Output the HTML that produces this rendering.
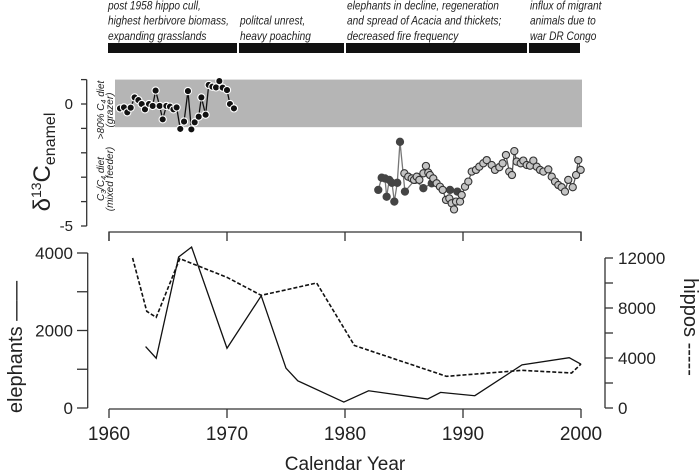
<!DOCTYPE html>
<html><head><meta charset="utf-8"><style>
body{margin:0;background:#fff;}
svg{display:block;font-family:"Liberation Sans",sans-serif;}
.ann{font-style:italic;font-size:11.5px;fill:#222;}
</style></head><body>
<svg id="chart" width="700" height="473" viewBox="0 0 700 473"></svg>
<script>
// ---- data ----
const isoBlackYears=[1960.93,1961.27,1961.55,1961.84,1962.17,1962.49,1962.77,1963.05,1963.39,1963.70,1963.95,1964.29,1964.55,1964.86,1965.17,1965.46,1965.73,1966.04,1966.36,1966.69,1966.98,1967.26,1967.60,1967.83,1968.19,1968.45,1968.76,1969.07,1969.35,1969.63,1970.0,1970.25,1970.59];
const isoBlackValues=[-0.18,-0.14,-0.34,-0.15,0.27,0.16,0,-0.22,0,-0.08,0.55,-0.08,-0.63,-0.08,-0.11,-0.22,-0.14,-1.02,-0.72,0.53,-1.04,-0.75,-0.52,0.27,-0.44,0.78,0.71,0.68,0.94,0.67,0.57,0,-0.18];
const isoDarkYears=[1982.82,1983.11,1983.39,1983.53,1983.75,1983.98,1984.18,1984.43,1984.66,1985.08,1985.93,1986.64,1987.35,1988.90,1989.52];
const isoDarkValues=[-3.52,-3.02,-3.05,-3.80,-3.11,-3.23,-4.00,-3.23,-1.55,-3.59,-3.11,-3.45,-3.25,-3.52,-3.59];
const isoLightYears=[1985.03,1985.36,1985.65,1985.85,1986.08,1986.30,1986.64,1986.86,1987.06,1987.20,1987.48,1987.77,1988.05,1988.28,1988.56,1988.84,1989.04,1989.24,1989.41,1989.75,1989.89,1990.17,1990.45,1990.74,1991.10,1991.38,1991.72,1992.01,1992.43,1992.71,1993.08,1993.36,1993.64,1993.92,1994.15,1994.35,1994.55,1994.89,1995.11,1995.40,1995.68,1995.96,1996.25,1996.53,1996.81,1997.23,1997.52,1997.80,1998.08,1998.36,1998.64,1998.92,1999.30,1999.58,1999.77,1999.97];
const isoLightValues=[-2.84,-2.98,-3.05,-3.11,-2.98,-3.11,-2.84,-2.54,-2.81,-2.91,-3.05,-3.25,-3.39,-3.52,-3.93,-3.87,-4.07,-4.32,-4.00,-4.00,-3.73,-3.39,-3.18,-2.77,-2.70,-2.57,-2.43,-2.30,-2.50,-2.70,-2.59,-2.43,-2.09,-2.77,-2.91,-1.93,-2.36,-2.43,-2.32,-2.50,-2.53,-2.32,-2.57,-2.70,-2.77,-2.68,-2.98,-3.18,-3.32,-3.41,-3.59,-3.11,-3.41,-2.91,-2.30,-2.70];
const elephantYears=[1963.1,1964.0,1965.9,1967.0,1970.0,1972.9,1975.0,1976.0,1979.9,1982.0,1987.0,1988.1,1991.0,1995.0,1999.0,2000.0];
const elephantValues=[1585,1285,3897,4154,1542,2895,1028,702,154,445,231,403,317,1113,1298,1130];
const hippoYears=[1962.0,1963.2,1964.0,1966.0,1970.0,1972.9,1977.6,1980.8,1988.6,1995.0,1999.2,2000.0];
const hippoValues=[12000,7733,7253,11947,10453,9013,10000,5000,2533,3013,2800,3520];
const xTicks=[1960,1970,1980,1990,2000];
const isoTicks=[1,0,-1,-2,-3,-4,-5];
const isoTickLabels=["0","-5"];
const eleTicks=[0,1000,2000,3000,4000];
const eleTickLabels=["0","2000","4000"];
const hipTicks=[0,2000,4000,6000,8000,10000,12000];
const hipTickLabels=["0","4000","8000","12000"];

// ---- scales ----
const X=y=>109+(y-1960)*11.8;
const YI=v=>104-v*24.4;
const YE=v=>408-v*0.03875;
const YH=v=>408-v*0.0125;
const NS="http://www.w3.org/2000/svg";
const svg=document.getElementById('chart');
function mk(tag,attrs,parent){const e=document.createElementNS(NS,tag);for(const k in attrs)e.setAttribute(k,attrs[k]);(parent||svg).appendChild(e);return e;}
function txt(s,attrs,parent){const e=mk('text',attrs,parent);e.textContent=s;return e;}

// annotation bars
const bars=[[108,237],[239,344],[346,527],[529,580]];
bars.forEach((b,i)=>{const r=mk('rect',{x:b[0],y:43,width:b[1]-b[0],height:10,fill:'#111'});

});
const anns=[[108,["post 1958 hippo cull,","highest herbivore biomass,","expanding grasslands"]],[240,["politcal unrest,","heavy poaching"]],[347,["elephants in decline, regeneration","and spread of Acacia and thickets;","decreased fire frequency"]],[530,["influx of migrant","animals due to","war DR Congo"]]];
anns.forEach((a,i)=>{const n=a[1].length;const g=mk('g',{transform:`translate(${a[0]},0) scale(0.88,1)`});


a[1].forEach((l,j)=>txt(l,{x:0,y:40-(n-1-j)*15.3,class:'ann'},g));});

// top panel
const band=mk('rect',{x:115,y:YI(1),width:582-115,height:YI(-0.95)-YI(1),fill:'#b5b5b5'});


const ya=mk('line',{x1:86.7,y1:YI(1),x2:86.7,y2:YI(-5),stroke:'#333','stroke-width':1.3});


isoTicks.forEach(t=>mk('line',{x1:81,x2:86.7,y1:YI(t),y2:YI(t),stroke:'#333','stroke-width':1.3}));
txt(isoTickLabels[0],{x:73,y:YI(0)+5,'text-anchor':'end','font-size':15,fill:'#222'});
txt(isoTickLabels[1],{x:73,y:YI(-5)+5,'text-anchor':'end','font-size':15,fill:'#222'});
const yt=txt('',{transform:'translate(50,162) rotate(-90)','text-anchor':'middle','font-size':24,fill:'#222'});


yt.innerHTML='δ<tspan font-size="14" dy="-9">13</tspan><tspan dy="9">C</tspan><tspan font-size="16" dy="5">enamel</tspan>';
const g1=mk('g',{});


txt('',{transform:'translate(104,110) rotate(-90)','text-anchor':'middle','font-size':10,'font-style':'italic',fill:'#222'},g1).innerHTML='&gt;80% C<tspan font-size="7" dy="2">4</tspan><tspan dy="-2"> diet</tspan>';
txt('(grazer)',{transform:'translate(113,110) rotate(-90)','text-anchor':'middle','font-size':10,'font-style':'italic',fill:'#222'},g1);
const g2=mk('g',{});


txt('',{transform:'translate(104,179) rotate(-90)','text-anchor':'middle','font-size':10,'font-style':'italic',fill:'#222'},g2).innerHTML='C<tspan font-size="7" dy="2">3</tspan><tspan dy="-2">/C</tspan><tspan font-size="7" dy="2">4</tspan><tspan dy="-2"> diet</tspan>';
txt('(mixed feeder)',{transform:'translate(113,179) rotate(-90)','text-anchor':'middle','font-size':10,'font-style':'italic',fill:'#222'},g2);

function series(years,vals,line,fill,stroke,name){
  const pts=years.map((y,i)=>X(y)+','+YI(vals[i])).join(' ');
  const pl=mk('polyline',{points:pts,fill:'none',stroke:line,'stroke-width':1.3});
  
  
  years.forEach((y,i)=>{const c=mk('circle',{cx:X(y),cy:YI(vals[i]),r:3.6,fill:fill,stroke:stroke,'stroke-width':1.1});
  
  });
}
series(isoBlackYears,isoBlackValues,'#111','#111','#fff','hippo-isotope');
series(isoDarkYears,isoDarkValues,'#777','#444','#444','dark-isotope');
series(isoLightYears,isoLightValues,'#555','#c4c4c4','#333','light-isotope');

// bottom panel
const br=mk('path',{d:`M${X(1960)} 241 V232 H${X(2000)} V241`,fill:'none',stroke:'#333','stroke-width':1.3});


xTicks.forEach(t=>mk('line',{x1:X(t),x2:X(t),y1:232,y2:241,stroke:'#333','stroke-width':1.3}));
const xa=mk('line',{x1:X(1960),x2:X(2000),y1:409,y2:409,stroke:'#333','stroke-width':1.3});


xTicks.forEach(t=>{mk('line',{x1:X(t),x2:X(t),y1:409,y2:418,stroke:'#333','stroke-width':1.3});
const l=txt(String(t),{x:X(t),y:440,'text-anchor':'middle','font-size':19,fill:'#222'});

});
const xt=txt('Calendar Year',{x:345,y:470,'text-anchor':'middle','font-size':19,fill:'#222'});



const ea=mk('line',{x1:87.7,x2:87.7,y1:YE(4000),y2:YE(0),stroke:'#333','stroke-width':1.3});


eleTicks.forEach(t=>mk('line',{x1:77,x2:87.7,y1:YE(t),y2:YE(t),stroke:'#333','stroke-width':1.3}));
[0,2000,4000].forEach((t,i)=>txt(eleTickLabels[i],{x:73,y:YE(t)+6,'text-anchor':'end','font-size':17,fill:'#222'}));
const et=txt('elephants ——',{transform:'translate(22,347) rotate(-90)','text-anchor':'middle','font-size':20,fill:'#222'});



const ha=mk('line',{x1:605,x2:605,y1:YH(12000),y2:YH(0),stroke:'#333','stroke-width':1.3});


hipTicks.forEach(t=>mk('line',{x1:605,x2:613,y1:YH(t),y2:YH(t),stroke:'#333','stroke-width':1.3}));
[0,4000,8000,12000].forEach((t,i)=>txt(hipTickLabels[i],{x:618,y:YH(t)+6,'font-size':17,fill:'#222'}));
const ht=txt('hippos -----',{transform:'translate(684,327) rotate(90)','text-anchor':'middle','font-size':20,fill:'#222'});



const el=mk('polyline',{points:elephantYears.map((y,i)=>X(y)+','+YE(elephantValues[i])).join(' '),fill:'none',stroke:'#111','stroke-width':1.3});


const hl=mk('polyline',{points:hippoYears.map((y,i)=>X(y)+','+YH(hippoValues[i])).join(' '),fill:'none',stroke:'#111','stroke-width':1.6,'stroke-dasharray':'4,2'});


</script>
</body></html>
